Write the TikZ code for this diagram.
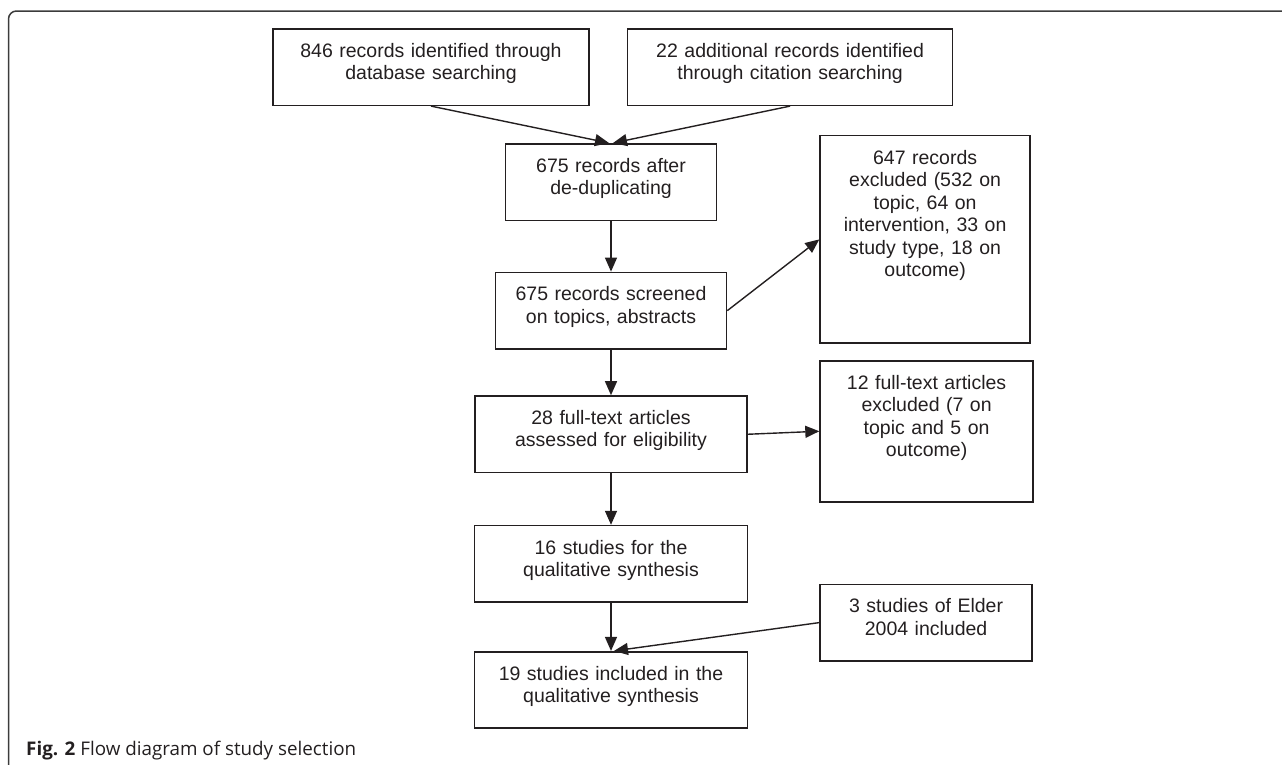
\documentclass[tikz,border=0pt]{standalone}
\usepackage{fontspec}
\setmainfont{Liberation Sans}
\newfontfamily\capfont{Open Sans}
\usepackage{xcolor}
\usepackage{tikz}
\usetikzlibrary{arrows.meta,positioning}

\definecolor{ink}{HTML}{231F20}
\definecolor{framegray}{HTML}{3C3C3C}
\newcommand{\boxfont}{\fontsize{19.5}{22.5}\selectfont}
\newcommand{\capsize}{\fontsize{18.8}{22}\selectfont}

\begin{document}
\begin{tikzpicture}[
  x=1pt, y=1pt,
  node distance=40pt,
  box/.style={draw=ink, line width=1.6pt, text=ink, align=center, inner sep=0pt,
    text height=28.4pt, text depth=48.1pt, font=\boxfont},
  arrow/.style={-{Triangle[length=14pt,width=12pt]}, line width=1.4pt, draw=ink},
  frame/.style={draw=framegray, line width=1.5pt, rounded corners=8pt},
  caption/.style={font=\capfont\capsize, text=ink, inner sep=0pt},
]
\useasboundingbox (0,0) rectangle (1282,-764);

% Outer frame
\begin{scope}
  \clip (0,0) rectangle (1282,-764);
  \draw[frame] (8.5,-11) rectangle (1300,-772);
\end{scope}

% Sources
\node[box, text width=316pt, anchor=north] (db) at (431,-28) {846 records identified through\\database searching};
\node[box, text width=325pt, right=37pt of db] (cite) {22 additional records identified\\through citation searching};

% Main column
\node[box, text width=211pt, anchor=north] (dedup) at (611,-143) {675 records after\\de-duplicating};
\node[box, text width=231pt, below=50.5pt of dedup] (screen) {675 records screened\\on topics, abstracts};
\node[box, text width=272pt, below=45.5pt of screen] (full) {28 full-text articles\\assessed for eligibility};
\node[box, text width=273pt, below=51.5pt of full] (qual) {16 studies for the\\qualitative synthesis};
\node[box, text width=273pt, below=48pt of qual] (incl) {19 studies included in the\\qualitative synthesis};

% Side column
\node[box, text width=210pt, text depth=179.1pt, right=92pt of screen, yshift=71.25pt] (excl1) {647 records\\excluded (532 on\\topic, 64 on\\intervention, 33 on\\study type, 18 on\\outcome)};
\node[box, text width=213pt, text depth=112.6pt, below=16pt of excl1.south west, anchor=north west] (excl2) {12 full-text articles\\excluded (7 on\\topic and 5 on\\outcome)};
\node[box, text width=212pt, below=81pt of excl2.south west, anchor=north west] (elder) {3 studies of Elder\\2004 included};

% Connectors
\draw[arrow] (db.south) -- ([xshift=-2pt]dedup.north);
\draw[arrow] (cite.south) -- ([xshift=2pt]dedup.north);
\draw[arrow] (dedup.south) -- (screen.north);
\draw[arrow] (screen.east) -- (excl1.west);
\draw[arrow] (screen.south) -- (full.north);
\draw[arrow] (full.east) -- (excl2.west);
\draw[arrow] (full.south) -- (qual.north);
\draw[arrow] (qual.south) -- (incl.north);
\draw[arrow] (elder.west) -- ([xshift=3pt]incl.north);

% Caption
\node[caption, anchor=base west] (cap) at (26,-755) {\textbf{Fig. 2} Flow diagram of study selection};

\end{tikzpicture}
\end{document}
